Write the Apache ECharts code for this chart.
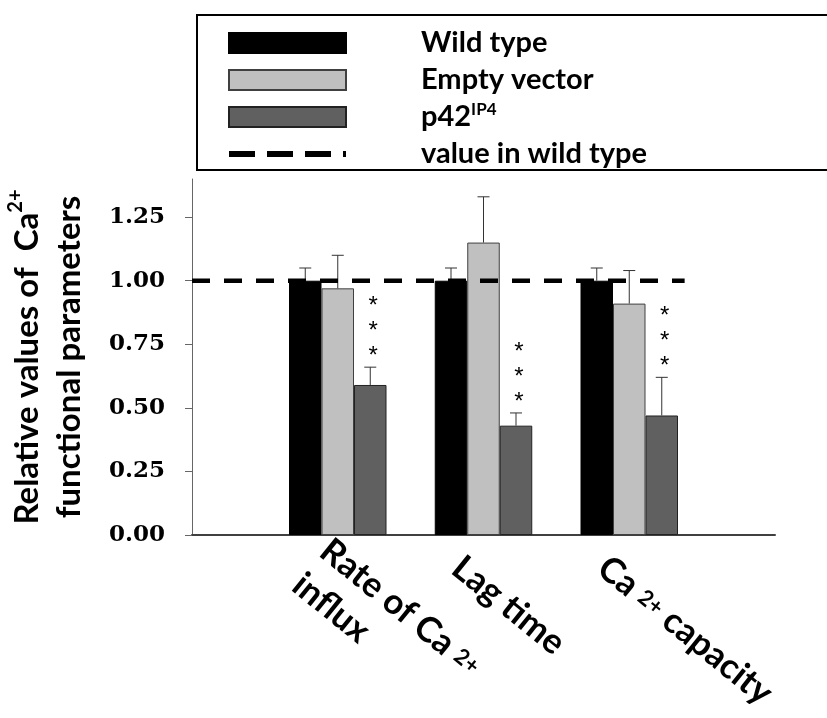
<!DOCTYPE html>
<html>
<head>
<meta charset="utf-8">
<script src="https://cdn.jsdelivr.net/npm/echarts@6/dist/echarts.min.js"></script>
<style>
  html, body { margin: 0; padding: 0; background: #fff; }
  #chart { width: 827px; height: 718px; }
</style>
</head>
<body>
<div id="chart"></div>
<script>
// values
const categories = ['Rate of Ca {s|2+}\ninflux', 'Lag time', 'Ca {s|2+} capacity'];
const wildType = [1.00, 1.00, 1.00];
const wildTypeSd = [0.05, 0.05, 0.05];
const emptyVector = [0.97, 1.15, 0.91];
const emptyVectorSd = [0.13, 0.18, 0.13];
const p42 = [0.59, 0.43, 0.47];
const p42Sd = [0.07, 0.05, 0.15];
const p42Sig = ['*\n*\n*', '*\n*\n*', '*\n*\n*'];
const refLine = [[0, 1], [3.38, 1]];
const yTicks = [0, 0.25, 0.5, 0.75, 1.0, 1.25];

const BAR_W = 32.5;
const FONT = 'Lato';

// empty slots either side so the groups sit on the tick points
const axisData = ['', ...categories, ''];
const pad = arr => ['-', ...arr, '-'];

const chart = echarts.init(document.getElementById('chart'));

function barSeries(name, values, color, border) {
  return {
    name,
    type: 'bar',
    data: pad(values),
    barWidth: BAR_W,
    barGap: '0%',
    itemStyle: { color, borderColor: border, borderWidth: 1 },
    z: 2
  };
}

// error whisker (upper only) + optional significance stars
function errSeries(values, sd, k, sig) {
  return {
    type: 'custom',
    silent: true,
    z: 3,
    data: values.map((v, i) => [i + 1, v, v + sd[i]]),
    renderItem(params, api) {
      const base = api.coord([api.value(0), api.value(1)]);
      const top = api.coord([api.value(0), api.value(2)]);
      const x = base[0] + k * BAR_W;
      const children = [
        { type: 'line', shape: { x1: x, y1: base[1], x2: x, y2: top[1] }, style: { stroke: '#333', lineWidth: 1 } },
        { type: 'line', shape: { x1: x - 6, y1: top[1], x2: x + 6, y2: top[1] }, style: { stroke: '#333', lineWidth: 1 } }
      ];
      if (sig) {
        children.push({
          type: 'text',
          x: x + 3,
          y: top[1] + 2,
          style: {
            text: sig[params.dataIndex],
            align: 'center',
            verticalAlign: 'bottom',
            fontFamily: '"Liberation Sans"',
            fontSize: 24,
            lineHeight: 25,
            fill: '#000'
          }
        });
      }
      return { type: 'group', children };
    }
  };
}

const option = {
  animation: false,
  grid: { left: 192, right: 52, top: 179, bottom: 183, outerBoundsMode: 'none' },
  legend: {
    orient: 'vertical',
    left: 197,
    top: 15,
    padding: [12, 330, 0, 29],
    itemWidth: 117,
    itemHeight: 20,
    itemGap: 5,
    borderColor: '#000',
    borderWidth: 2,
    data: [
      { name: 'Wild type', icon: 'rect' },
      { name: 'Empty vector', icon: 'rect' },
      { name: 'p42IP4', icon: 'rect' },
      // line icon only, hide the marker that the legend adds
      { name: 'value in wild type', itemStyle: { opacity: 0, color: 'transparent', borderWidth: 0 }, lineStyle: { width: 6, type: [26, 12], opacity: 1 } }
    ],
    formatter: n => (n === 'p42IP4' ? 'p42{sup|IP4}' : n),
    textStyle: {
      fontFamily: FONT,
      fontWeight: 'bold',
      fontSize: 29,
      lineHeight: 32,
      color: '#000',
      padding: [0, 0, 0, 70],
      rich: {
        sup: { fontFamily: FONT, fontWeight: 'bold', fontSize: 17, verticalAlign: 'top', color: '#000' }
      }
    }
  },
  xAxis: [
    {
      type: 'category',
      data: axisData,
      boundaryGap: false,
      axisLine: { lineStyle: { color: '#404040', width: 2 } },
      axisTick: { show: false },
      splitLine: { show: false },
      axisLabel: {
        interval: 0,
        rotate: -39,
        margin: 0,
        padding: [78, 0, 0, -3],
        fontFamily: FONT,
        fontWeight: 'bold',
        fontSize: 35,
        lineHeight: 44,
        color: '#000',
        rich: {
          s: { fontFamily: FONT, fontWeight: 'bold', fontSize: 22, color: '#000' }
        }
      }
    },
    { type: 'value', min: 0, max: 4, show: false }
  ],
  yAxis: {
    type: 'value',
    min: 0,
    max: 1.4,
    name: 'Relative values of  Ca{sup|2+}\nfunctional parameters',
    nameLocation: 'middle',
    nameGap: 102,
    nameRotate: 90,
    nameTextStyle: {
      fontFamily: FONT,
      fontWeight: 'bold',
      fontSize: 33,
      lineHeight: 42,
      color: '#000',
      rich: {
        sup: { fontFamily: FONT, fontWeight: 'bold', fontSize: 20, verticalAlign: 'top', color: '#000' }
      }
    },
    axisLine: { show: true, lineStyle: { color: '#666', width: 1 } },
    axisTick: { show: true, length: 7, lineStyle: { color: '#666' }, customValues: yTicks },
    axisLabel: {
      customValues: yTicks,
      formatter: v => v.toFixed(2),
      fontFamily: '"DejaVu Serif"',
      fontWeight: 'bold',
      fontSize: 23,
      color: '#000',
      margin: 27
    },
    splitLine: { show: false }
  },
  series: [
    barSeries('Wild type', wildType, '#000', '#000'),
    barSeries('Empty vector', emptyVector, '#c0c0c0', '#404040'),
    barSeries('p42IP4', p42, '#606060', '#222'),
    errSeries(wildType, wildTypeSd, -1),
    errSeries(emptyVector, emptyVectorSd, 0),
    errSeries(p42, p42Sd, 1, p42Sig),
    {
      name: 'value in wild type',
      type: 'line',
      xAxisIndex: 1,
      data: refLine,
      symbol: 'none',
      silent: true,
      itemStyle: { color: '#000' },
      lineStyle: { color: '#000', width: 4.5, type: [18, 14] },
      z: 5
    }
  ]
};

chart.setOption(option);
</script>
</body>
</html>
